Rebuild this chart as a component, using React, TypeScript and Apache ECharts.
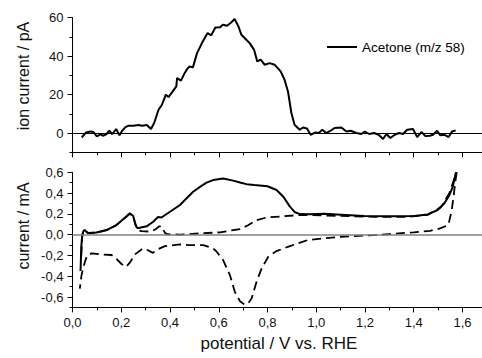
import React, { useEffect, useRef } from 'react';
import * as echarts from 'echarts';

// Top panel: acetone ion current (pA) vs potential (V)
const acetone: [number, number][] = [
  [0.038, -2.3], [0.056, 0.3], [0.073, 0.8], [0.086, 0.5], [0.1, -1.7], [0.114, -0.7], [0.127, -1.4],
  [0.14, -0.5], [0.151, 1.2], [0.162, -0.5], [0.168, 0.2], [0.179, 2.1], [0.193, -1.2], [0.203, 1],
  [0.216, 2.9], [0.23, 3.8], [0.25, 3.8], [0.271, 4.2], [0.285, 3.8], [0.305, 4.2], [0.322, 2.1],
  [0.335, 5.2], [0.353, 12.1], [0.367, 14.7], [0.383, 19.9], [0.394, 18.7], [0.408, 21.1], [0.426, 24.2],
  [0.429, 28.6], [0.445, 27.2], [0.46, 31.1], [0.47, 33.2], [0.48, 34.6], [0.494, 34.1], [0.511, 41.5],
  [0.531, 46.7], [0.554, 51.9], [0.569, 50.7], [0.586, 54.8], [0.606, 55], [0.617, 56.2], [0.634, 55.7],
  [0.651, 57.4], [0.665, 59.2], [0.681, 55.3], [0.693, 51], [0.709, 49], [0.727, 46.7], [0.745, 43.2],
  [0.758, 37.2], [0.772, 38.1], [0.788, 35.5], [0.809, 36.3], [0.829, 35.5], [0.854, 32], [0.87, 27.7],
  [0.884, 21.6], [0.898, 10.4], [0.911, 4.3], [0.932, 1.7], [0.946, 2.9], [0.962, 2.4], [0.977, -0.9],
  [0.996, 0.3], [1.01, 0], [1.025, 1.7], [1.041, 0], [1.059, 1.2], [1.075, 2.6], [1.103, 2.9],
  [1.124, 0.8], [1.141, 1.2], [1.165, 0], [1.185, -0.5], [1.199, 0.8], [1.217, -0.5], [1.237, 0],
  [1.256, -0.9], [1.274, -3.1], [1.288, -0.5], [1.304, -2.6], [1.322, -0.9], [1.34, 0], [1.356, -0.5],
  [1.373, 1.7], [1.397, 2.1], [1.414, -2.1], [1.431, 0.5], [1.448, -1.6], [1.466, -1.4], [1.479, -0.9],
  [1.496, 1.2], [1.509, -1.2], [1.527, -0.9], [1.543, -2.1], [1.557, 0.8], [1.572, 1.4],
];

// Bottom panel: cyclic voltammogram with acetone (solid)
const cvSolid: [number, number][] = [
  [0.033, -0.35], [0.036, -0.12], [0.04, 0.0], [0.045, 0.035], [0.05, 0.045], [0.056, 0.03],
  [0.064, 0.015], [0.098, 0.02], [0.14, 0.044], [0.18, 0.092], [0.215, 0.163], [0.235, 0.205],
  [0.249, 0.18], [0.258, 0.1], [0.265, 0.065], [0.272, 0.065], [0.304, 0.08], [0.331, 0.124],
  [0.351, 0.17], [0.365, 0.165], [0.4, 0.22], [0.441, 0.285], [0.454, 0.317], [0.495, 0.413],
  [0.523, 0.46], [0.55, 0.5], [0.577, 0.525], [0.618, 0.54], [0.659, 0.52], [0.691, 0.5],
  [0.714, 0.486], [0.746, 0.478], [0.8, 0.466], [0.837, 0.43], [0.865, 0.365], [0.892, 0.27],
  [0.913, 0.215], [0.933, 0.198], [0.974, 0.197], [1.033, 0.2], [1.101, 0.192], [1.197, 0.18],
  [1.307, 0.178], [1.402, 0.18], [1.457, 0.195], [1.498, 0.237], [1.525, 0.3], [1.546, 0.38],
  [1.56, 0.46], [1.573, 0.6],
];

// Bottom panel: base CV (dashed), anodic then cathodic sweep
const cvDashedForward: [number, number][] = [
  [0.036, -0.2], [0.04, -0.02], [0.046, 0.035], [0.05, 0.042], [0.058, 0.025], [0.066, 0.014],
  [0.1, 0.02], [0.14, 0.044], [0.18, 0.092], [0.215, 0.16], [0.235, 0.2], [0.249, 0.175],
  [0.258, 0.1], [0.267, 0.045], [0.283, 0.033], [0.317, 0.03], [0.34, 0.05], [0.355, 0.08],
  [0.365, 0.08], [0.38, 0.015], [0.39, 0.004], [0.44, 0.0], [0.523, 0.012], [0.605, 0.022],
  [0.687, 0.054], [0.72, 0.09], [0.755, 0.14], [0.796, 0.165], [0.851, 0.174], [0.92, 0.187],
  [0.974, 0.188], [1.1, 0.18], [1.238, 0.172], [1.375, 0.172], [1.457, 0.19], [1.512, 0.265],
  [1.546, 0.4], [1.567, 0.54], [1.576, 0.6],
];
const cvDashedReverse: [number, number][] = [
  [1.576, 0.6], [1.57, 0.5], [1.565, 0.4], [1.556, 0.237], [1.542, 0.092], [1.508, 0.06],
  [1.467, 0.037], [1.4, 0.022], [1.3, 0.006], [1.24, -0.004], [1.1, -0.02], [0.965, -0.052],
  [0.892, -0.11], [0.837, -0.158], [0.803, -0.212], [0.776, -0.325], [0.755, -0.453], [0.735, -0.613],
  [0.72, -0.665], [0.705, -0.672], [0.687, -0.64], [0.666, -0.55], [0.646, -0.39], [0.618, -0.245],
  [0.59, -0.16], [0.577, -0.132], [0.536, -0.1], [0.482, -0.1], [0.441, -0.094], [0.379, -0.11],
  [0.35, -0.14], [0.33, -0.175], [0.31, -0.15], [0.29, -0.132], [0.256, -0.19], [0.235, -0.27],
  [0.22, -0.31], [0.2, -0.28], [0.175, -0.22], [0.16, -0.196], [0.119, -0.19], [0.078, -0.18],
  [0.06, -0.2], [0.051, -0.26], [0.037, -0.39], [0.03, -0.52],
];

const xMajorTicks = [0, 0.2, 0.4, 0.6, 0.8, 1.0, 1.2, 1.4, 1.6];
const xMinorTicks = [0.1, 0.3, 0.5, 0.7, 0.9, 1.1, 1.3, 1.5];
const ionMajorTicks = [0, 20, 40, 60];
const ionMinorTicks = [-10, 10, 30, 50];
const curMajorTicks = [-0.6, -0.4, -0.2, 0, 0.2, 0.4, 0.6];
const curMinorTicks = [-0.7, -0.5, -0.3, -0.1, 0.1, 0.3, 0.5];

const FONT = '"Liberation Sans", Arial, sans-serif';
const BLACK = '#000';

function commaFmt(v: number) {
  return (Math.abs(v) < 1e-9 ? 0 : v).toFixed(1).replace('.', ',');
}

export default function App() {
  const ref = useRef<HTMLDivElement>(null);
  useEffect(() => {
    if (!ref.current) return;
    const chart = echarts.init(ref.current, undefined, { renderer: 'svg' });
    const axisLineStyle = { color: BLACK, width: 1 };
    const labelStyle = { color: '#111', fontSize: 13, fontFamily: FONT };

    const xMajor = (gridIndex: number, showLabels: boolean) => ({
      type: 'value', gridIndex, position: 'bottom', min: 0, max: 1.68,
      axisLine: { show: true, onZero: false, lineStyle: axisLineStyle },
      axisTick: { show: true, length: 5, customValues: xMajorTicks, lineStyle: axisLineStyle },
      axisLabel: { show: showLabels, customValues: xMajorTicks, margin: 9, formatter: commaFmt, ...labelStyle },
      splitLine: { show: false },
    });
    const xMinor = (gridIndex: number) => ({
      type: 'value', gridIndex, position: 'bottom', min: 0, max: 1.68,
      axisLine: { show: false, onZero: false },
      axisTick: { show: true, length: 3, customValues: xMinorTicks, lineStyle: axisLineStyle },
      axisLabel: { show: false },
      splitLine: { show: false },
    });

    chart.setOption({
      animation: false,
      backgroundColor: '#fff',
      grid: [
        { left: 72.5, right: 0, top: 17.5, height: 134.8 },
        { left: 72.5, right: 0, top: 172.3, height: 135.1 },
      ],
      legend: {
        left: 322, top: 35, itemWidth: 30, itemHeight: 2, itemGap: 5,
        textStyle: { fontSize: 13.5, color: BLACK, fontFamily: FONT },
        data: [{ name: 'Acetone (m/z 58)', icon: 'rect', itemStyle: { color: BLACK } }],
      },
      xAxis: [xMajor(0, false), xMinor(0), xMajor(1, true), xMinor(1)],
      yAxis: [
        {
          type: 'value', gridIndex: 0, position: 'left', min: -10, max: 60,
          axisLine: { show: true, onZero: false, lineStyle: axisLineStyle },
          axisTick: { show: true, length: 5, customValues: ionMajorTicks, lineStyle: axisLineStyle },
          axisLabel: { show: true, customValues: ionMajorTicks, margin: 9, ...labelStyle },
          splitLine: { show: false },
        },
        {
          type: 'value', gridIndex: 0, position: 'left', min: -10, max: 60,
          axisLine: { show: false, onZero: false },
          axisTick: { show: true, length: 3, customValues: ionMinorTicks, lineStyle: axisLineStyle },
          axisLabel: { show: false },
          splitLine: { show: false },
        },
        {
          type: 'value', gridIndex: 1, position: 'left', min: -0.7, max: 0.6,
          axisLine: { show: true, onZero: false, lineStyle: axisLineStyle },
          axisTick: { show: true, length: 5, customValues: curMajorTicks, lineStyle: axisLineStyle },
          axisLabel: { show: true, customValues: curMajorTicks, margin: 9, formatter: commaFmt, ...labelStyle },
          splitLine: { show: false },
        },
        {
          type: 'value', gridIndex: 1, position: 'left', min: -0.7, max: 0.6,
          axisLine: { show: false, onZero: false },
          axisTick: { show: true, length: 3, customValues: curMinorTicks, lineStyle: axisLineStyle },
          axisLabel: { show: false },
          splitLine: { show: false },
        },
      ],
      series: [
        {
          name: 'Acetone (m/z 58)', type: 'line', xAxisIndex: 0, yAxisIndex: 0,
          data: acetone, showSymbol: false, symbol: 'none',
          lineStyle: { color: BLACK, width: 2 }, itemStyle: { color: BLACK },
          markLine: {
            silent: true, symbol: ['none', 'none'], label: { show: false },
            lineStyle: { color: BLACK, width: 1, type: 'solid' },
            data: [{ yAxis: 0 }],
          },
          z: 3,
        },
        {
          name: 'base-forward', type: 'line', xAxisIndex: 2, yAxisIndex: 2,
          data: cvDashedForward, showSymbol: false, symbol: 'none',
          lineStyle: { color: BLACK, width: 1.8, type: [9, 5] },
          markLine: {
            silent: true, symbol: ['none', 'none'], label: { show: false },
            lineStyle: { color: '#808080', width: 1.5, type: 'solid' },
            data: [{ yAxis: 0 }],
          },
        },
        {
          name: 'base-reverse', type: 'line', xAxisIndex: 2, yAxisIndex: 2,
          data: cvDashedReverse, showSymbol: false, symbol: 'none',
          lineStyle: { color: BLACK, width: 1.8, type: [9, 5] },
        },
        {
          name: 'with-acetone', type: 'line', xAxisIndex: 2, yAxisIndex: 2,
          data: cvSolid, showSymbol: false, symbol: 'none',
          lineStyle: { color: BLACK, width: 2 },
          z: 4,
        },
      ],
      graphic: [
        {
          type: 'text', x: 23, y: 76, rotation: Math.PI / 2,
          style: {
            text: 'ion current / pA', fill: '#111', font: '16px ' + FONT,
            textAlign: 'center', textVerticalAlign: 'middle', align: 'center', verticalAlign: 'middle',
          },
        },
        {
          type: 'text', x: 23, y: 226, rotation: Math.PI / 2,
          style: {
            text: 'current / mA', fill: '#111', font: '16px ' + FONT,
            textAlign: 'center', textVerticalAlign: 'middle', align: 'center', verticalAlign: 'middle',
          },
        },
        {
          type: 'text', x: 279, y: 343,
          style: {
            text: 'potential / V vs. RHE', fill: '#111', font: '17px ' + FONT,
            textAlign: 'center', textVerticalAlign: 'middle', align: 'center', verticalAlign: 'middle',
          },
        },
      ],
    });
    return () => chart.dispose();
  }, []);
  return (
    <div
      ref={ref}
      style={{ position: 'fixed', left: 0, top: 0, width: 482, height: 358, background: '#fff' }}
    />
  );
}
